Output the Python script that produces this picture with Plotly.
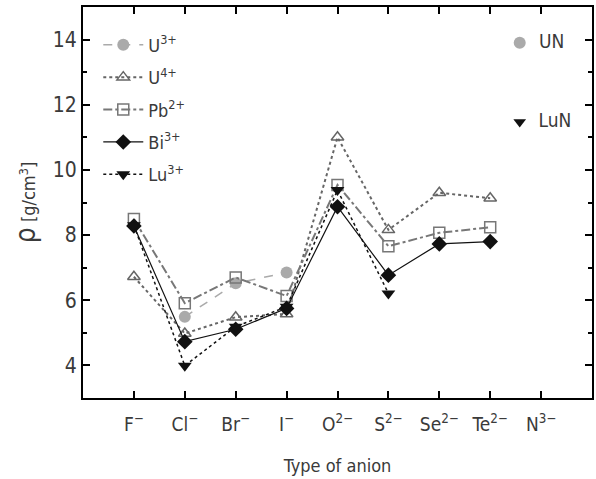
import plotly.graph_objects as go

anions = ["F<sup>−</sup>", "Cl<sup>−</sup>", "Br<sup>−</sup>", "I<sup>−</sup>", "O<sup>2−</sup>",
          "S<sup>2−</sup>", "Se<sup>2−</sup>", "Te<sup>2−</sup>", "N<sup>3−</sup>"]
xpos = [1, 2, 3, 4, 5, 6, 7, 8, 9]

u3 = [None, 5.49, 6.52, 6.85, None, None, None, None, None]
u4 = [6.72, 4.98, 5.48, 5.58, 11.0, 8.16, 9.30, 9.13, None]
pb = [8.49, 5.91, 6.70, 6.13, 9.54, 7.66, 8.07, 8.24, None]
bi = [8.28, 4.73, 5.11, 5.75, 8.87, 6.77, 7.73, 7.80, None]
lu = [8.30, 3.99, 5.19, 5.80, 9.38, 6.21, None, None, None]

nitrides = ["UN", "LuN"]
nitride_x = [8.58, 8.58]
nitride_y = [13.9, 11.47]

FONT = "DejaVu Sans Condensed, Roboto Condensed, Liberation Sans Narrow, sans-serif"
TXT = "#3a3a3a"

fig = go.Figure()

series = [
    ("U<sup>3+</sup>", u3, dict(color="#aaaaaa", width=1.5, dash="dash"),
     dict(symbol="circle", size=12, color="#aaaaaa")),
    ("U<sup>4+</sup>", u4, dict(color="#666666", width=2, dash="dot"),
     dict(symbol="triangle-up-open", size=11, color="#666666", line=dict(width=1.5))),
    ("Pb<sup>2+</sup>", pb, dict(color="#777777", width=2, dash="dashdot"),
     dict(symbol="square-open", size=11, color="#777777", line=dict(width=1.5))),
    ("Bi<sup>3+</sup>", bi, dict(color="#111111", width=1.2),
     dict(symbol="diamond", size=12, color="#111111")),
    ("Lu<sup>3+</sup>", lu, dict(color="#111111", width=1.5, dash="dot"),
     dict(symbol="triangle-down", size=12, color="#111111")),
]

for i, (name, vals, line, marker) in enumerate(series):
    fig.add_trace(go.Scatter(x=xpos, y=vals, name=name, mode="lines+markers",
                             line=line, marker=marker, legendgroup=str(i),
                             connectgaps=False))

fig.add_trace(go.Scatter(x=[nitride_x[0]], y=[nitride_y[0]], mode="markers+text",
                         text=["  " + nitrides[0]], textposition="middle right",
                         marker=dict(symbol="circle", size=12, color="#aaaaaa"),
                         textfont=dict(size=19, color=TXT, family=FONT),
                         showlegend=False, cliponaxis=False))
fig.add_trace(go.Scatter(x=[nitride_x[1]], y=[nitride_y[1]], mode="markers+text",
                         text=["  " + nitrides[1]], textposition="middle right",
                         marker=dict(symbol="triangle-down", size=11, color="#111111"),
                         textfont=dict(size=19, color=TXT, family=FONT),
                         showlegend=False, cliponaxis=False))

fig.update_layout(
    width=596, height=479,
    margin=dict(l=83, r=2, t=7, b=81),
    paper_bgcolor="white", plot_bgcolor="white",
    font=dict(family=FONT, size=18, color=TXT),
    showlegend=True,
    legend=dict(x=0.03, y=0.95, xanchor="left", yanchor="top",
                bgcolor="rgba(0,0,0,0)", tracegroupgap=6,
                font=dict(size=18, family=FONT, color=TXT),
                itemwidth=40),
    xaxis=dict(range=[0, 10], tickvals=xpos, ticktext=anions,
               showline=True, linecolor="black", linewidth=2, mirror="ticks",
               ticks="inside", ticklen=7, tickwidth=2, tickcolor="black",
               showgrid=False, zeroline=False, ticklabelstandoff=8,
               title=dict(text="Type of anion", font=dict(size=18), standoff=26),
               tickfont=dict(size=19)),
    yaxis=dict(range=[3, 15], tickvals=[4, 6, 8, 10, 12, 14],
               showline=True, linecolor="black", linewidth=2, mirror="ticks",
               ticks="inside", ticklen=7, tickwidth=2, tickcolor="black",
               minor=dict(tickvals=[5, 7, 9, 11, 13], ticks="inside", ticklen=4,
                          tickwidth=2, tickcolor="black"),
               showgrid=False, zeroline=False,
               title=dict(text="<span style='font-size:28px'>ρ</span> [g/cm<sup>3</sup>]",
                          font=dict(size=18), standoff=12),
               tickfont=dict(size=21)),
)

fig.write_html("out.html")
